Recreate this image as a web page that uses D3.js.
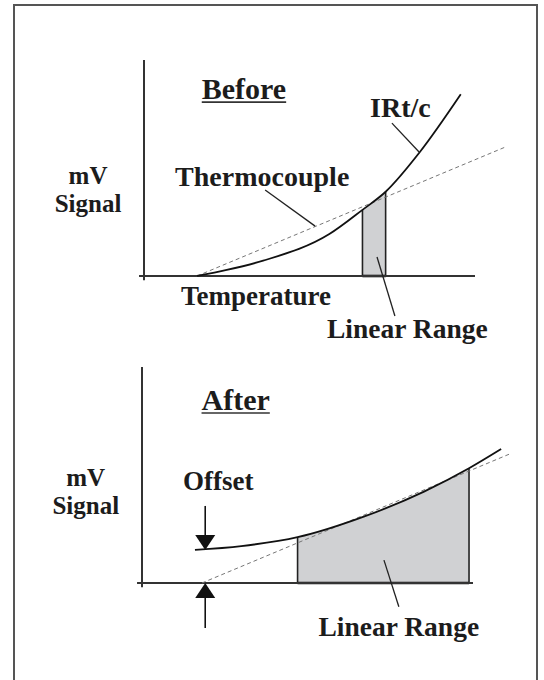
<!DOCTYPE html>
<html>
<head>
<meta charset="utf-8">
<script src="https://cdn.jsdelivr.net/npm/d3@7"></script>
<style>
  body { margin: 0; background: #fff; }
  text { font-family: "Liberation Serif", "Times New Roman", serif; font-weight: bold; fill: #1c1c1c; }
</style>
</head>
<body>
<svg width="544" height="680"></svg>
<script>
// temperature (0-100 along the axis) vs mV signal (0-100 up the axis)
const beforeT  = [16, 25, 36, 56, 66, 73, 83.4, 95.7];
const beforeMv = [0, 2.8, 7.1, 19.4, 30.6, 39, 57.5, 84.1];
const beforeRange = [66, 73];
const beforeTc = [[16, 0], [109, 59.6]];

const afterT  = [16, 30, 47, 67, 85.2, 98.8, 108.5];
const afterMv = [15.3, 17.1, 21.2, 30.7, 42.3, 53.1, 62];
const afterRange = [47, 98.8];
const afterTc = [[18.1, 0], [111.5, 60]];
const offsetT = 19.1;

const yLabel = ['mV', 'Signal'];

const svg = d3.select('svg');

svg.append('rect')
    .attr('x', 14).attr('y', 5)
    .attr('width', 523).attr('height', 700)
    .attr('fill', 'none').attr('stroke', '#555').attr('stroke-width', 2);

function panel(ox, oy, ts, mvs, range, tc, title, labels, leaders, ylab) {
    let x = d3.scaleLinear([0, 100], [ox, ox + 331]);
    let y = d3.scaleLinear([0, 100], [oy, oy - 216]);
    let pts = ts.map((t, i) => ({t: t, mv: mvs[i]}));
    let g = svg.append('g');

    // linear range area, clipped between the range ends
    let id = 'clip' + Math.round(oy);
    g.append('clipPath').attr('id', id)
        .append('rect')
        .attr('x', x(range[0])).attr('y', 0)
        .attr('width', x(range[1]) - x(range[0])).attr('height', y(0));
    let area = d3.area()
        .x(d => x(d.t))
        .y0(y(0))
        .y1(d => y(d.mv))
        .curve(d3.curveMonotoneX);
    g.append('path')
        .attr('d', area(pts))
        .attr('clip-path', 'url(#' + id + ')')
        .attr('fill', '#d0d1d3');
    range.forEach(function (t) {
        let p = pts.find(d => d.t === t);
        g.append('line')
            .attr('x1', x(t)).attr('x2', x(t))
            .attr('y1', y(0)).attr('y2', y(p.mv))
            .attr('stroke', '#222').attr('stroke-width', 1.6);
    });
    g.append('line')
        .attr('x1', x(range[0])).attr('x2', x(range[1]))
        .attr('y1', y(0)).attr('y2', y(0))
        .attr('stroke', '#111').attr('stroke-width', 2.6);

    // axes
    g.append('line')
        .attr('x1', x(0)).attr('x2', x(0))
        .attr('y1', y(-2)).attr('y2', y(100))
        .attr('stroke', '#333').attr('stroke-width', 2);
    g.append('line')
        .attr('x1', x(-1.5)).attr('x2', x(100))
        .attr('y1', y(0)).attr('y2', y(0))
        .attr('stroke', '#333').attr('stroke-width', 2);

    // thermocouple (dashed)
    g.append('line')
        .attr('x1', x(tc[0][0])).attr('y1', y(tc[0][1]))
        .attr('x2', x(tc[1][0])).attr('y2', y(tc[1][1]))
        .attr('stroke', '#777').attr('stroke-width', 1)
        .attr('stroke-dasharray', '4,3');

    // IRt/c curve
    let line = d3.line()
        .x(d => x(d.t))
        .y(d => y(d.mv))
        .curve(d3.curveMonotoneX);
    g.append('path')
        .attr('d', line(pts))
        .attr('fill', 'none').attr('stroke', '#111').attr('stroke-width', 1.8);

    // leaders
    leaders.forEach(function (l) {
        g.append('line')
            .attr('x1', x(l[0])).attr('y1', y(l[1]))
            .attr('x2', x(l[2])).attr('y2', y(l[3]))
            .attr('stroke', '#222').attr('stroke-width', 1.3);
    });

    // title, underlined
    let tt = g.append('text')
        .attr('x', x(title.t)).attr('y', y(title.mv))
        .attr('text-anchor', 'middle')
        .style('font-size', '30px')
        .text(title.text);
    let bb = tt.node().getBBox();
    g.append('line')
        .attr('x1', bb.x).attr('x2', bb.x + bb.width)
        .attr('y1', y(title.mv) + 3).attr('y2', y(title.mv) + 3)
        .attr('stroke', '#333').attr('stroke-width', 1.6);

    labels.forEach(function (l) {
        g.append('text')
            .attr('x', x(l.t)).attr('y', y(l.mv))
            .style('font-size', l.size + 'px')
            .text(l.text);
    });

    // y label, two lines
    g.selectAll('text.ylab')
        .data(yLabel)
        .enter()
        .append('text')
        .attr('class', 'ylab')
        .attr('text-anchor', 'middle')
        .style('font-size', '25px')
        .attr('x', x(ylab.t))
        .attr('y', (d, i) => y(ylab.mv[i]))
        .text(d => d);
    return {x: x, y: y, g: g};
}

panel(144, 276, beforeT, beforeMv, beforeRange, beforeTc,
    {text: 'Before', t: 30.2, mv: 81.9},
    [
        {text: 'IRt/c', t: 68.3, mv: 73.6, size: 28},
        {text: 'Thermocouple', t: 9.4, mv: 41.7, size: 28},
        {text: 'Temperature', t: 11.2, mv: -13.4, size: 27},
        {text: 'Linear Range', t: 55.3, mv: -28.7, size: 27.5}
    ],
    [[74.9, 70.8, 83.1, 57.4], [36.6, 39.8, 51.7, 23.1], [70.4, 8.8, 75.8, -18.5]],
    {t: -16.9, mv: [42.6, 29.6]});

let after = panel(142, 583, afterT, afterMv, afterRange, afterTc,
    {text: 'After', t: 28.3, mv: 80.1},
    [
        {text: 'Offset', t: 12.4, mv: 43.1, size: 27},
        {text: 'Linear Range', t: 53.3, mv: -24.5, size: 27.5}
    ],
    [[73.1, 10.6, 77.6, -11]],
    {t: -17, mv: [44.9, 31.9]});

// offset arrows
let ax = after.x(offsetT);
let topTip = after.y(afterMv[0]);
let botTip = after.y(0);
after.g.append('line')
    .attr('x1', ax).attr('x2', ax).attr('y1', topTip - 44).attr('y2', topTip - 14)
    .attr('stroke', '#111').attr('stroke-width', 1.6);
after.g.append('path')
    .attr('d', d3.line()([[ax - 10, topTip - 15], [ax + 10, topTip - 15], [ax, topTip]]) + 'Z')
    .attr('fill', '#111');
after.g.append('line')
    .attr('x1', ax).attr('x2', ax).attr('y1', botTip + 14).attr('y2', botTip + 45)
    .attr('stroke', '#111').attr('stroke-width', 1.6);
after.g.append('path')
    .attr('d', d3.line()([[ax - 10, botTip + 15], [ax + 10, botTip + 15], [ax, botTip]]) + 'Z')
    .attr('fill', '#111');
</script>
</body>
</html>
